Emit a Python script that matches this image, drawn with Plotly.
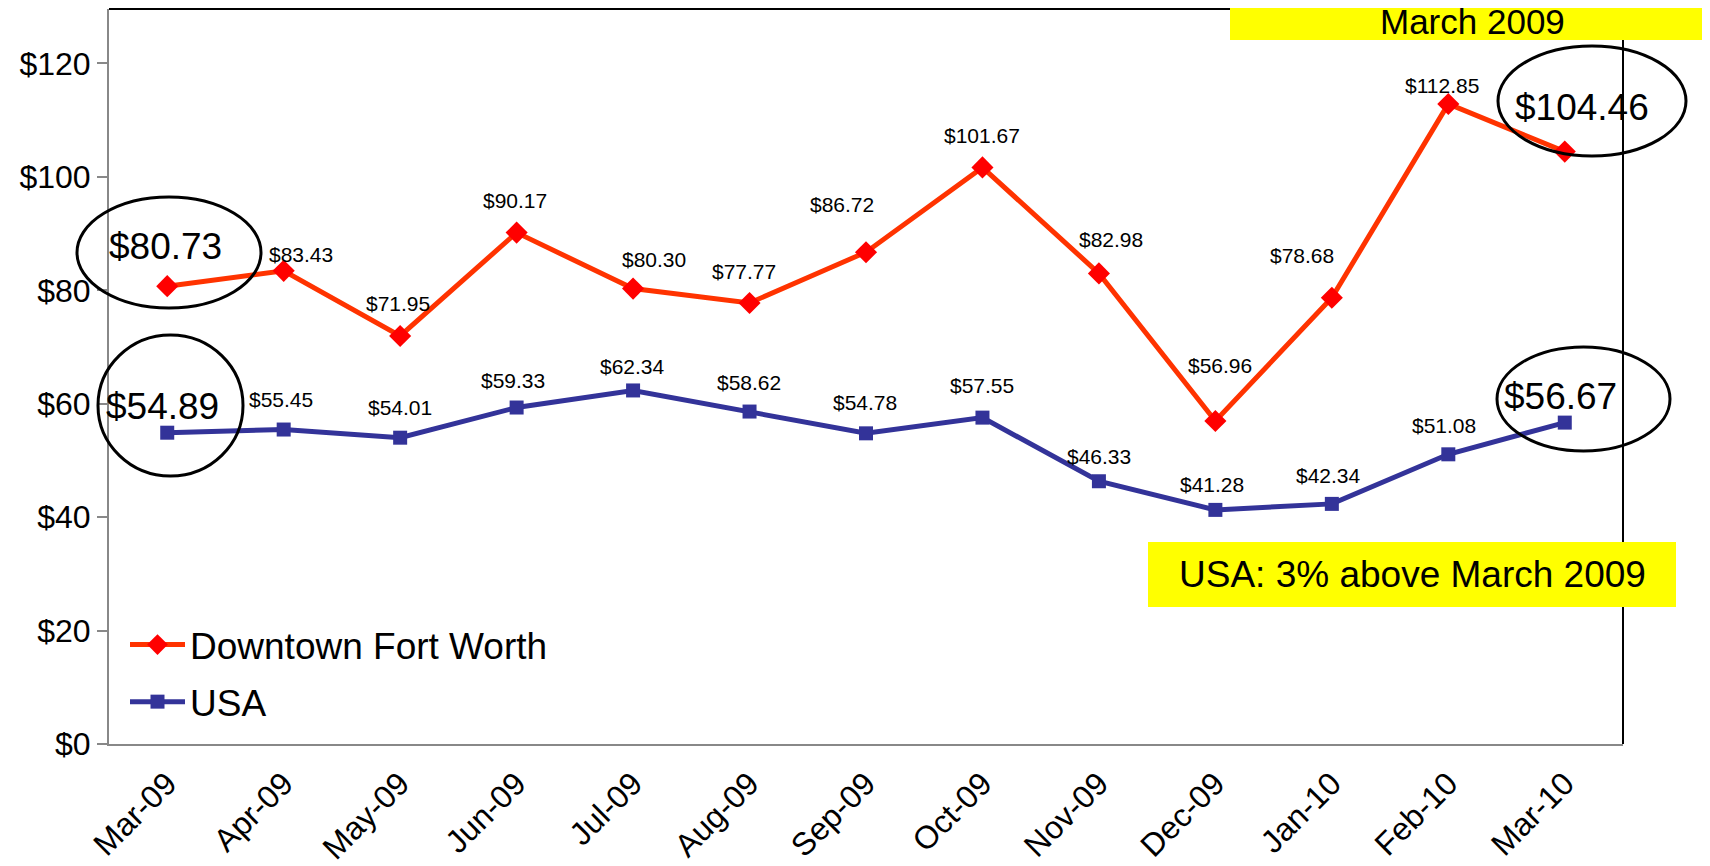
import plotly.graph_objects as go

# ---- data ----
months = ["Mar-09", "Apr-09", "May-09", "Jun-09", "Jul-09", "Aug-09", "Sep-09",
          "Oct-09", "Nov-09", "Dec-09", "Jan-10", "Feb-10", "Mar-10"]
dfw = [80.73, 83.43, 71.95, 90.17, 80.30, 77.77, 86.72, 101.67, 82.98, 56.96, 78.68, 112.85, 104.46]
usa = [54.89, 55.45, 54.01, 59.33, 62.34, 58.62, 54.78, 57.55, 46.33, 41.28, 42.34, 51.08, 56.67]
y_ticks = [0, 20, 40, 60, 80, 100, 120]
y_ticktext = ["$0", "$20", "$40", "$60", "$80", "$100", "$120"]
note_top = "March 2009"
note_usa = "USA: 3% above March 2009"

# ---- label offsets (px) ----
dfw_off = [(-2, -40), (17, -16), (-2, -32), (-2, -32), (21, -29), (-6, -31), (-24, -48),
           (0, -32), (12, -34), (5, -55), (-30, -42), (-6, -18), (17, -44)]
usa_off = [(-5, -26), (-3, -30), (0, -30), (-4, -27), (-1, -24), (-1, -29), (-1, -31),
           (0, -32), (0, -25), (-3, -25), (-3, -28), (-4, -29), (-4, -26)]
big_idx = {0, 12}

OFF = 8  # browser body margin
W, H = 1710 - OFF, 866 - OFF
L, R, T, B = 109, 1623, 9, 744  # plot area in page pixels


def px(x):
    return (x - L) / (R - L)


def py(y):
    return (B - y) / (B - T)


FONT = "Liberation Sans, Arial, sans-serif"

fig = go.Figure()
fig.add_trace(go.Scatter(
    x=months, y=dfw, name="Downtown Fort Worth", mode="lines+markers",
    line=dict(color="#FF3300", width=5), legendgroup="a",
    marker=dict(symbol="diamond", size=17, color="#FF0000"),
))
fig.add_trace(go.Scatter(
    x=months, y=usa, name="USA", mode="lines+markers",
    line=dict(color="#333399", width=5), legendgroup="b",
    marker=dict(symbol="square", size=14, color="#333399"),
))

annotations = []
for series, offs in ((dfw, dfw_off), (usa, usa_off)):
    for i, (m, v) in enumerate(zip(months, series)):
        dx, dy = offs[i]
        annotations.append(dict(
            x=m, y=v, xref="x", yref="y", text=f"${v:.2f}", showarrow=False,
            xshift=dx, yshift=-dy, xanchor="center", yanchor="middle",
            font=dict(size=37 if i in big_idx else 21, color="black", family=FONT),
        ))

annotations.append(dict(
    x=px(1472), y=py(22), xref="paper", yref="paper", text=note_top, showarrow=False,
    xanchor="center", yanchor="middle", font=dict(size=35, color="black", family=FONT),
))
annotations.append(dict(
    x=px(1412), y=py(574), xref="paper", yref="paper", text=note_usa, showarrow=False,
    xanchor="center", yanchor="middle", font=dict(size=37, color="black", family=FONT),
))

shapes = [
    # top and right border
    dict(type="line", xref="paper", yref="paper", x0=0, x1=1, y0=1, y1=1,
         line=dict(color="black", width=2), layer="above"),
    dict(type="line", xref="paper", yref="paper", x0=1, x1=1, y0=0, y1=1,
         line=dict(color="black", width=2), layer="above"),
    # yellow boxes
    dict(type="rect", xref="paper", yref="paper", x0=px(1230), x1=px(1715), y0=py(40), y1=py(-10),
         fillcolor="#FFFF00", line=dict(width=0), layer="above"),
    dict(type="rect", xref="paper", yref="paper", x0=px(1148), x1=px(1676), y0=py(607), y1=py(542),
         fillcolor="#FFFF00", line=dict(width=0), layer="above"),
]
for (x0, x1, y0, y1) in [(77, 261, 197, 308), (98, 243, 335, 476),
                         (1498, 1686, 46, 156), (1497, 1670, 347, 451)]:
    shapes.append(dict(type="circle", xref="paper", yref="paper",
                       x0=px(x0), x1=px(x1), y0=py(y1), y1=py(y0),
                       line=dict(color="black", width=3), layer="above"))

fig.update_layout(
    width=W, height=H,
    margin=dict(l=L - OFF, r=W - (R - OFF), t=T - OFF, b=H - (B - OFF), pad=0,
                autoexpand=False),
    paper_bgcolor="white", plot_bgcolor="white",
    font=dict(family=FONT, color="black"),
    showlegend=True,
    legend=dict(x=px(125), y=py(614), xanchor="left", yanchor="top",
                font=dict(size=37, color="black", family=FONT),
                bgcolor="rgba(0,0,0,0)", itemwidth=55, traceorder="grouped",
                tracegroupgap=6),
    annotations=annotations,
    shapes=shapes,
)
fig.update_xaxes(
    type="category", range=[-0.5, len(months) - 0.5], automargin=False,
    tickangle=-45, tickfont=dict(size=32, color="black", family=FONT),
    showline=True, linecolor="#888888", linewidth=2, showgrid=False,
    ticks="", zeroline=False, ticklabelstandoff=6,
)
fig.update_yaxes(
    range=[0, 129.6], tickvals=y_ticks, ticktext=y_ticktext, automargin=False,
    tickfont=dict(size=32, color="black", family=FONT),
    showline=True, linecolor="#888888", linewidth=2, showgrid=False,
    ticks="outside", ticklen=10, tickcolor="#888888", tickwidth=2, zeroline=False,
)

fig.write_html("out.html")
